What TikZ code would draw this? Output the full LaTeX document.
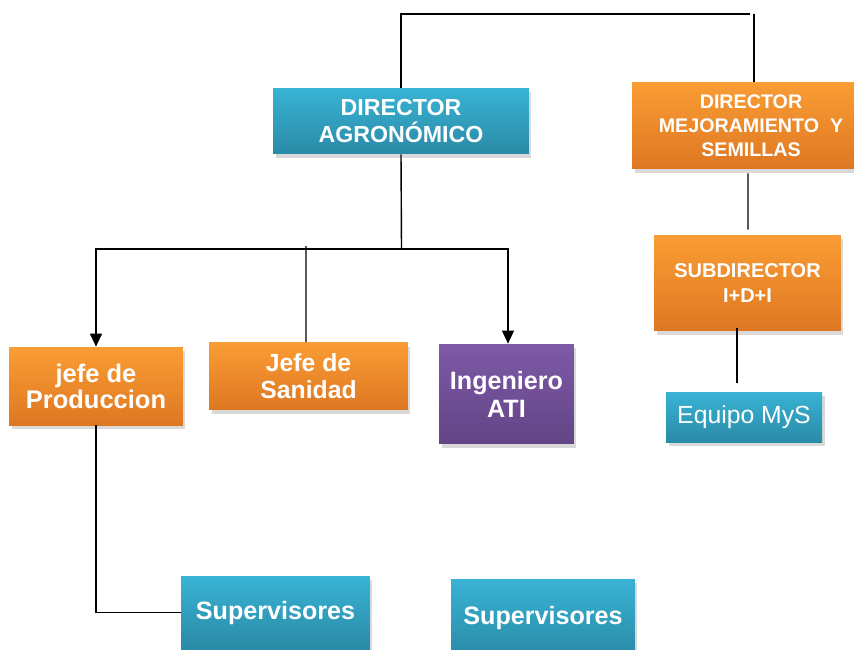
\documentclass[tikz,border=0pt]{standalone}
\usepackage{fontspec}
\setmainfont{Liberation Sans}
\usepackage{tikz}
\usetikzlibrary{arrows.meta, shadows}
\definecolor{cyantop}{RGB}{57, 179, 213}
\definecolor{cyanbot}{RGB}{42, 138, 166}
\definecolor{orangetop}{RGB}{250, 157, 52}
\definecolor{orangebot}{RGB}{222, 119, 34}
\definecolor{purpletop}{RGB}{126, 89, 167}
\definecolor{purplebot}{RGB}{99, 69, 134}

\tikzset{
  orgbox/.style={rectangle, inner sep=0pt, align=center, text=white,
    drop shadow={opacity=0.3, shadow xshift=0.05cm, shadow yshift=-0.08cm}},
  cyanbox/.style={orgbox, top color=cyantop, bottom color=cyanbot},
  orangebox/.style={orgbox, top color=orangetop, bottom color=orangebot},
  purplebox/.style={orgbox, top color=purpletop, bottom color=purplebot},
  link/.style={line width=0.8pt},
  linkarrow/.style={link, -{Triangle[width=6.8pt, length=7.4pt]}}
}

\begin{document}
\begin{tikzpicture}[x=0.02cm, y=-0.02cm]
  \clip (0, 0) rectangle (854, 649);

  % === top level ===
  \node[cyanbox, minimum width=5.12cm, minimum height=1.32cm,
    font=\fontsize{13.2}{15.5}\selectfont\bfseries]
    (dirAgro) at (401, 121) {DIRECTOR\\AGRONÓMICO};
  \node[orangebox, minimum width=4.76cm, minimum height=1.74cm,
    font=\fontsize{11.2}{13.6}\selectfont\bfseries]
    (dirMej) at (751, 125.5) {DIRECTOR\\MEJORAMIENTO\ \ Y\\SEMILLAS};

  % === right branch ===
  \node[orangebox, minimum width=3.74cm, minimum height=1.92cm,
    font=\fontsize{11.4}{14.7}\selectfont\bfseries]
    (subDir) at (747.5, 283) {SUBDIRECTOR\\I+D+I};
  \node[cyanbox, minimum width=3.12cm, minimum height=1.0cm,
    font=\fontsize{14.1}{17}\selectfont]
    (equipo) at (744, 417) {Equipo MyS};

  % === left branch ===
  \node[orangebox, minimum width=3.48cm, minimum height=1.56cm,
    font=\fontsize{14.5}{14.8}\selectfont\bfseries]
    (jefeProd) at (96, 386) {jefe de\\Produccion};
  \node[orangebox, minimum width=3.98cm, minimum height=1.34cm,
    font=\fontsize{14.1}{15.3}\selectfont\bfseries]
    (jefeSan) at (308.5, 376) {Jefe de\\Sanidad};
  \node[purplebox, minimum width=2.7cm, minimum height=2.0cm,
    font=\fontsize{14.3}{15.9}\selectfont\bfseries]
    (ingATI) at (506.5, 394) {Ingeniero\\ATI};

  % === supervisores ===
  \node[cyanbox, minimum width=3.78cm, minimum height=1.46cm,
    font=\fontsize{14.3}{17}\selectfont\bfseries]
    (sup1) at (275.5, 612.5) {Supervisores};
  \node[cyanbox, minimum width=3.68cm, minimum height=1.56cm,
    font=\fontsize{14.3}{17}\selectfont\bfseries]
    (sup2) at (543, 618) {Supervisores};

  % === connectors ===
  \coordinate (topR) at (754, 14);
  \coordinate (hub) at (401.5, 249);
  \draw[link] (dirAgro.north) |- ([xshift=-0.08cm]topR);
  \draw[link] (topR) -- (topR |- dirMej.north);
  \draw[link] (dirAgro.south) -- (hub);
  \draw[linkarrow] (hub) -| (jefeProd.north);
  \draw[linkarrow] (hub) -| ([xshift=0.03cm]ingATI.north);
  \draw[link] ([shift={(-2.5, -96)}]jefeSan.north) -- ([xshift=-0.05cm]jefeSan.north);
  \draw[link] ([shift={(-3, 4)}]dirMej.south) -- ([shift={(0.5, -5)}]subDir.north);
  \draw[link] ([shift={(-10.5, -3)}]subDir.south) -- ([shift={(-7, -9)}]equipo.north);
  \draw[link] (jefeProd.south) |- (sup1.west);
\end{tikzpicture}
\end{document}
